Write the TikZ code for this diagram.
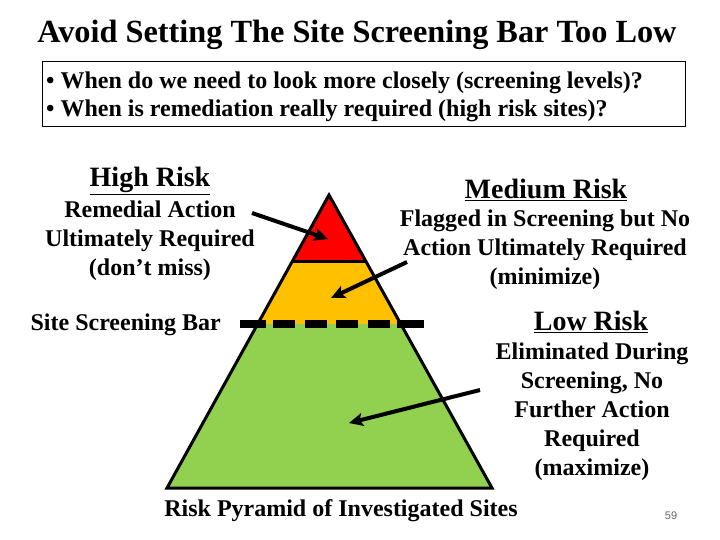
\documentclass[tikz,border=0pt]{standalone}
\usepackage{fontspec}
\setmainfont{Liberation Serif}
\newfontfamily\numfont{Liberation Sans}
\usetikzlibrary{arrows.meta,calc}
\definecolor{pyrred}{RGB}{255,0,0}
\definecolor{pyrorange}{RGB}{255,192,0}
\definecolor{pyrgreen}{RGB}{146,208,80}
\tikzset{
  lbl/.style={inner sep=0pt, align=center, font=\bfseries\fontsize{24}{29}\selectfont},
  head/.style={inner sep=0pt, font=\bfseries\fontsize{28}{32}\selectfont},
  pointer/.style={line width=4pt, -{Stealth[length=14pt,width=13pt,inset=3pt]}},
  barline/.style={line width=7.5pt},
}
\begin{document}
\begin{tikzpicture}[x=1pt,y=-1pt]
\useasboundingbox (0,0) rectangle (720,540);
% title
\node[inner sep=0pt, font=\bfseries\fontsize{32.3}{36}\selectfont] (title) at (357,35) {Avoid Setting The Site Screening Bar Too Low};
% question box
\node[draw, line width=1pt, minimum width=643pt, minimum height=65pt, anchor=north west, inner sep=0pt] (qbox) at (42,61) {};
\node[lbl, anchor=west, align=left] (q1) at (46,83) {• When do we need to look more closely (screening levels)?};
\node[lbl, anchor=west, align=left] (q2) at (46,111) {• When is remediation really required (high risk sites)?};
% pyramid
\coordinate (apex) at (329,195);
\coordinate (bl) at (167,488);
\coordinate (br) at (492,488);
\coordinate (l1) at ($(apex)!0.2253!(bl)$);
\coordinate (r1) at ($(apex)!0.2253!(br)$);
\coordinate (l2) at ($(apex)!0.4403!(bl)$);
\coordinate (r2) at ($(apex)!0.4403!(br)$);
\fill[pyrred] (apex) -- (l1) -- (r1) -- cycle;
\fill[pyrorange] (l1) -- (l2) -- (r2) -- (r1) -- cycle;
\fill[pyrgreen] (l2) -- (bl) -- (br) -- (r2) -- cycle;
\draw[line width=3pt] (l1) -- (r1);
\draw[line width=3pt, line join=miter] (apex) -- (bl) -- (br) -- cycle;
% screening bar
\coordinate (b0) at (240,324);
\coordinate (b1) at (266,324);
\coordinate (b2) at (273,324);
\coordinate (b3) at (390,324);
\coordinate (b4) at (397,324);
\coordinate (b5) at (424,324);
\draw[barline] (b0) -- (b1);
\draw[barline, dash pattern=on 22pt off 9.7pt] (b2) -- (b3);
\draw[barline] (b4) -- (b5);
% labels
\node[head] (high) at (150,181) {\underline{High Risk}};
\node[lbl] (hightext) at (150,241) {Remedial Action\\Ultimately Required\\(don’t miss)};
\node[head] (medium) at (546,190) {\underline{Medium Risk}};
\node[lbl] (medtext) at (545,250) {Flagged in Screening but No\\Action Ultimately Required\\(minimize)};
\node[lbl, anchor=east] (bartext) at (221,325) {Site Screening Bar};
\node[head] (low) at (591,322) {\underline{Low Risk}};
\node[lbl] (lowtext) at (592,411.5) {Eliminated During\\Screening, No\\Further Action\\Required\\(maximize)};
\node[inner sep=0pt, font=\bfseries\fontsize{24}{28}\selectfont] (caption) at (341,511) {Risk Pyramid of Investigated Sites};
\node[inner sep=0pt, font=\numfont\fontsize{11}{13}\selectfont, text=black!60] (num) at (671,516) {59};
% arrows
\coordinate (ha) at (252,213);
\coordinate (hb) at (328,239);
\coordinate (ma) at (407,262);
\coordinate (mb) at (331,298);
\coordinate (la) at (480,390);
\coordinate (lb) at (349,423);
\draw[pointer] (ha) -- (hb);
\draw[pointer] (ma) -- (mb);
\draw[pointer] (la) -- (lb);
\end{tikzpicture}
\end{document}
